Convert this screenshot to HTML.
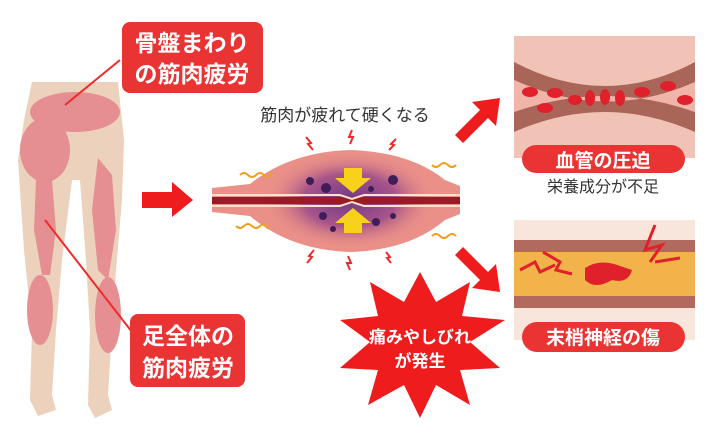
<!DOCTYPE html><html><head><meta charset="utf-8"><style>
body{margin:0;background:#fff;width:716px;height:440px;overflow:hidden}
svg{display:block}
text{font-family:"Liberation Sans","Noto Sans CJK JP",sans-serif}
</style></head><body>
<svg width="716" height="440" viewBox="0 0 716 440">
<defs>
<radialGradient id="mg" cx="0.5" cy="0.5" r="0.5"><stop offset="0" stop-color="#6e3a86"/><stop offset="0.55" stop-color="#a8548a"/><stop offset="1" stop-color="#e58a86" stop-opacity="0"/></radialGradient>
</defs>
<!-- legs -->
<path d="M32 82 L118 82 L124 140 L122 200 L116 270 L112 330 L108 395 L112 410 L95 418 L88 405 L90 330 L86 260 L80 180 L72 180 L62 260 L56 330 L52 395 L56 410 L38 416 L30 400 L32 330 L24 250 L18 160 L24 120 Z" fill="#ecd1bd"/>
<ellipse cx="75" cy="112" rx="45" ry="20" fill="#e58f92"/>
<ellipse cx="45" cy="150" rx="25" ry="32" fill="#e58f92"/>
<path d="M36 180 L52 180 L56 230 L50 275 L42 275 L34 230 Z" fill="#e58f92"/>
<path d="M98 158 L112 175 L116 230 L108 280 L98 270 L92 210 Z" fill="#e58f92"/>
<ellipse cx="40" cy="310" rx="13" ry="35" fill="#e58f92"/>
<ellipse cx="108" cy="315" rx="13" ry="38" fill="#e58f92"/>
<line x1="120" y1="60" x2="65" y2="105" stroke="#ee2b2b" stroke-width="2"/>
<line x1="45" y1="220" x2="132" y2="332" stroke="#ee2b2b" stroke-width="2"/>
<rect x="122" y="22" width="141" height="71" rx="8" fill="#ea3434"/>
<text x="192" y="51" fill="#fff" font-size="23" font-weight="bold" text-anchor="middle">骨盤まわり</text>
<text x="192" y="82" fill="#fff" font-size="23" font-weight="bold" text-anchor="middle">の筋肉疲労</text>
<rect x="130" y="314" width="115" height="73" rx="8" fill="#ea3434"/>
<text x="188" y="344" fill="#fff" font-size="23" font-weight="bold" text-anchor="middle">足全体の</text>
<text x="188" y="376" fill="#fff" font-size="23" font-weight="bold" text-anchor="middle">筋肉疲労</text>
<!-- arrow -->
<path d="M142 192 L172 192 L172 182 L193 200 L172 217 L172 208 L142 208 Z" fill="#ee1c1c"/>
<text x="345" y="121" fill="#333" font-size="17" text-anchor="middle">筋肉が疲れて硬くなる</text>
<!-- muscle -->
<path d="M212 188 L250 184 Q290 152 350 150 Q410 152 445 180 L460 186 L460 214 L445 220 Q410 250 350 252 Q290 250 250 216 L212 212 Z" fill="#ea9088"/>
<ellipse cx="350" cy="200" rx="85" ry="48" fill="url(#mg)"/>
<g fill="#3f1d58"><circle cx="310" cy="181" r="4"/><circle cx="326" cy="188" r="5"/><circle cx="393" cy="180" r="5"/><circle cx="371" cy="189" r="3"/><circle cx="323" cy="216" r="4"/><circle cx="376" cy="222" r="4"/><circle cx="393" cy="216" r="3"/><circle cx="333" cy="229" r="3"/></g>
<rect x="212" y="197" width="248" height="7" fill="#9a1b27"/>
<path d="M212 195 L340 195 L352 199 L364 195 L460 195" stroke="#fde3cc" stroke-width="2" fill="none"/>
<path d="M212 206 L340 206 L352 202 L364 206 L460 206" stroke="#fde3cc" stroke-width="2" fill="none"/>
<path d="M344 168 L362 168 L362 178 L371 178 L353 193 L335 178 L344 178 Z" fill="#f7d21a"/>
<path d="M344 233 L362 233 L362 223 L371 223 L353 208 L335 223 L344 223 Z" fill="#f7d21a"/>
<g stroke="#f0a020" stroke-width="2" fill="none">
<path d="M240 175 q4 -4 8 0 q4 4 8 0 q4 -4 8 0 q4 4 8 -3"/>
<path d="M236 226 q4 4 8 0 q4 -4 8 0 q4 4 8 0 q4 -4 8 3"/>
<path d="M432 165 q4 4 8 0 q4 -4 8 0 q4 4 8 0"/>
<path d="M432 236 q4 -4 8 0 q4 4 8 0 q4 -4 8 0"/>
</g>
<g stroke="#ee2b2b" stroke-width="2" fill="none">
<path d="M306 137 l5 6 l-3 1 l5 6"/><path d="M352 130 l-3 7 l4 0 l-3 7"/><path d="M396 139 l-5 5 l3 1 l-5 5"/>
<path d="M307 263 l5 -6 l-3 -1 l5 -6"/><path d="M350 270 l-3 -7 l4 0 l-3 -7"/><path d="M391 263 l-4 -5 l3 -1 l-4 -5"/>
</g>
<!-- diag arrows -->
<path d="M455 135 L480 110 L472 102 L500 98 L496 126 L488 118 L463 143 Z" fill="#ee1c1c"/>
<path d="M455 255 L480 280 L472 288 L500 292 L496 264 L488 272 L463 247 Z" fill="#ee1c1c"/>
<!-- top image -->
<rect x="514" y="36" width="181" height="122" fill="#f1c2b6"/>
<path d="M514 62 Q605 110 695 62 L695 82 Q605 122 514 80 Z" fill="#a86558"/>
<path d="M514 132 Q605 92 695 132 L695 112 Q605 80 514 112 Z" fill="#a86558"/>
<path d="M514 80 Q605 122 695 82 L695 112 Q605 80 514 112 Z" fill="#f0b5a8"/>
<g fill="#e0202a"><ellipse cx="530" cy="92" rx="8" ry="5"/><ellipse cx="545" cy="108" rx="8" ry="5"/><ellipse cx="555" cy="93" rx="8" ry="5"/><ellipse cx="575" cy="100" rx="7" ry="5"/><ellipse cx="590" cy="98" rx="5" ry="8"/><ellipse cx="605" cy="97" rx="5" ry="8"/><ellipse cx="620" cy="98" rx="5" ry="8"/><ellipse cx="642" cy="92" rx="8" ry="5"/><ellipse cx="668" cy="86" rx="8" ry="5"/><ellipse cx="685" cy="100" rx="8" ry="5"/></g>
<rect x="522" y="145" width="163" height="28" rx="14" fill="#ea3434"/>
<text x="603" y="167" fill="#fff" font-size="19" font-weight="bold" text-anchor="middle">血管の圧迫</text>
<text x="603" y="192" fill="#333" font-size="16" text-anchor="middle">栄養成分が不足</text>
<!-- bottom image -->
<rect x="514" y="220" width="181" height="120" fill="#f8e6dc"/>
<rect x="514" y="240" width="181" height="68" fill="#b36a5e"/>
<rect x="514" y="252" width="181" height="44" fill="#f2b44a"/>
<path d="M585 268 Q600 258 620 266 L632 270 Q628 284 612 280 Q595 290 585 280 Z" fill="#e0202a"/>
<path d="M520 270 L535 262 L540 272 L555 265 M543 252 L560 262 L556 270 L572 274 M655 225 L645 250 L662 245 L650 262 M655 262 L680 258" stroke="#e0202a" stroke-width="3" fill="none"/>
<rect x="522" y="322" width="163" height="30" rx="15" fill="#ea3434"/>
<text x="603" y="344" fill="#fff" font-size="19" font-weight="bold" text-anchor="middle">末梢神経の傷</text>
<!-- starburst -->
<polygon points="420,272 436,302 470,282 462,316 505,320 470,342 500,368 460,370 470,405 436,385 420,418 404,385 368,405 378,370 340,368 370,342 340,320 378,316 370,282 404,302" fill="#ee1c1c"/>
<text x="420" y="343" fill="#fff" font-size="17" font-weight="bold" text-anchor="middle">痛みやしびれ</text>
<text x="420" y="367" fill="#fff" font-size="17" font-weight="bold" text-anchor="middle">が発生</text>
</svg>
</body></html>
